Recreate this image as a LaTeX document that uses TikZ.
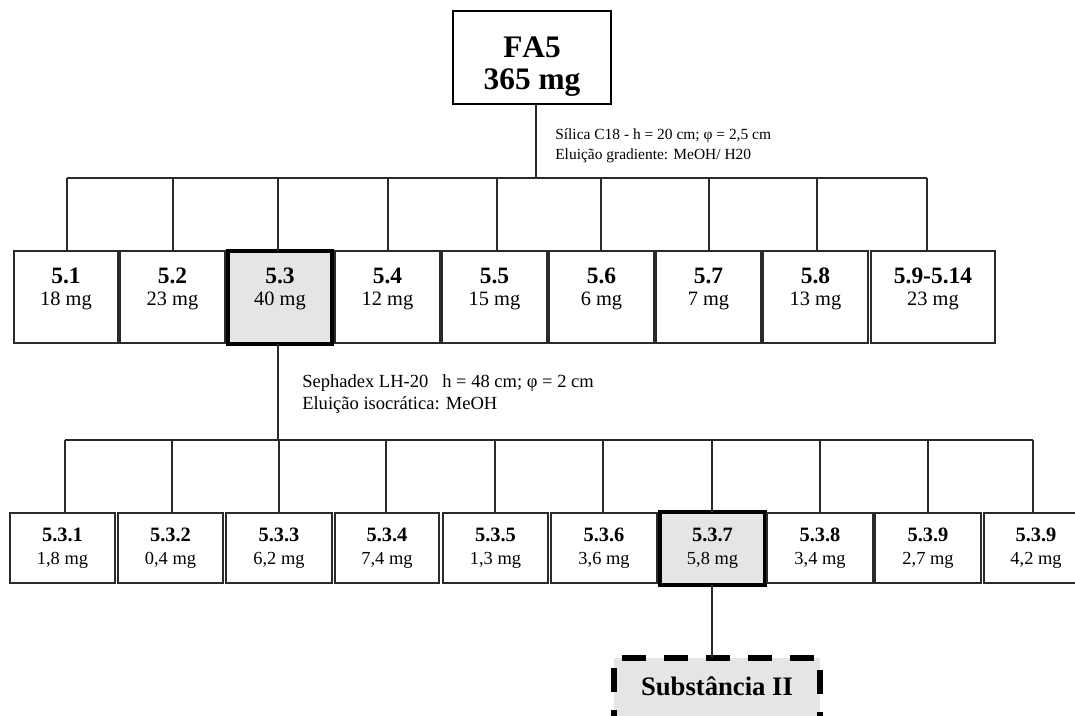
\documentclass[tikz,border=0pt]{standalone}
\usepackage{fontspec}
\setmainfont[Kerning=Off]{Liberation Serif}
\usetikzlibrary{fit}
\definecolor{fillg}{HTML}{E5E5E5}
\definecolor{ln}{HTML}{2A2A2A}
\begin{document}
\begin{tikzpicture}[x=0.75pt,y=-0.75pt,
  box/.style={draw=ln, line width=0.8pt, inner sep=0pt, outer sep=0pt},
  hibox/.style={draw=black, line width=3pt, fill=fillg, inner sep=0pt, outer sep=0pt},
  topbox/.style={draw=black, line width=1.5pt, inner sep=0pt, outer sep=0pt},
  dbox/.style={draw=black, line width=4.5pt, fill=fillg, inner sep=0pt, outer sep=0pt, dash pattern=on 18pt off 13.5pt},
  conn/.style={draw=ln, line width=0.8pt},
  lblA/.style={anchor=base, inner sep=0pt, font=\fontsize{17.6}{20}\selectfont\bfseries},
  mgA/.style={anchor=base, inner sep=0pt, font=\fontsize{15.3}{18}\selectfont},
  lblB/.style={anchor=base, inner sep=0pt, font=\fontsize{15.3}{18}\selectfont\bfseries},
  mgB/.style={anchor=base, inner sep=0pt, font=\fontsize{13.8}{16}\selectfont},
  note/.style={anchor=base west, inner sep=0pt, align=left},
  bigtxt/.style={anchor=base, inner sep=0pt, font=\fontsize{23.5}{26}\selectfont\bfseries}
]
\useasboundingbox (0,0) rectangle (1075,715);
\clip (0,0) rectangle (1075,715);

% top node
\node[topbox, fit={(453,11) (611,104)}] (fa5) {};
\node[bigtxt] (fa5a) at (532,57) {FA5};
\node[bigtxt] (fa5b) at (532,89) {365 mg};

\node[note, font=\fontsize{11.6}{14.5}\selectfont] (sil) at (555,159) {Sílica C18 - h = 20 cm; φ = 2,5 cm\\Eluição gradiente: MeOH/ H20};

% row 1 boxes
\node[box, fit={(14,251) (118,343)}] (n1) {};
\node[box, fit={(120,251) (225,343)}] (n2) {};
\node[hibox, fit={(228,251) (332,344)}] (n3) {};
\node[box, fit={(335,251) (440,343)}] (n4) {};
\node[box, fit={(442,251) (547,343)}] (n5) {};
\node[box, fit={(549,251) (654,343)}] (n6) {};
\node[box, fit={(656,251) (761,343)}] (n7) {};
\node[box, fit={(763,251) (868,343)}] (n8) {};
\node[box, fit={(871,251) (995,343)}] (n9) {};

\foreach \n/\x/\a/\b in {1/66/5.1/18 mg, 2/172.5/5.2/23 mg, 3/280/5.3/40 mg, 4/387.5/5.4/12 mg, 5/494.5/5.5/15 mg, 6/601.5/5.6/6 mg, 7/708.5/5.7/7 mg, 8/815.5/5.8/13 mg, 9/933/5.9-5.14/23 mg}{
  \node[lblA] (l\n) at (\x,283) {\a};
  \node[mgA] (m\n) at (\x,305) {\b};
}

% connectors row 1
\coordinate (t1) at (536,178);
\draw[conn] (fa5.south -| t1) -- (t1);
\coordinate (b1L) at (67,178);
\coordinate (b1R) at (927,178);
\draw[conn] (b1L) -- (b1R);
\foreach \n/\x in {1/67, 2/173, 3/278, 4/388, 5/497, 6/601, 7/709, 8/817, 9/927}{
  \coordinate (d\n) at (\x,178);
  \draw[conn] (d\n) -- (d\n |- n\n.north);
}

% second column text
\node[note, font=\fontsize{13.9}{16.5}\selectfont] (seph) at (302,409) {Sephadex LH-20\ \ \ h = 48 cm; φ = 2 cm\\Eluição isocrática: MeOH};

% row 2 boxes
\node[box, fit={(10,513) (115,583)}] (s1) {};
\node[box, fit={(118,513) (223,583)}] (s2) {};
\node[box, fit={(226,513) (332,583)}] (s3) {};
\node[box, fit={(335,513) (439,583)}] (s4) {};
\node[box, fit={(443,513) (548,583)}] (s5) {};
\node[box, fit={(551,513) (657,583)}] (s6) {};
\node[hibox, fit={(660,512) (765,585)}] (s7) {};
\node[box, fit={(767,513) (873,583)}] (s8) {};
\node[box, fit={(875,513) (981,583)}] (s9) {};
\node[box, fit={(984,513) (1090,583)}] (s10) {};

\foreach \n/\x/\a/\b in {1/62.5/5.3.1/{1,8 mg}, 2/170.5/5.3.2/{0,4 mg}, 3/279/5.3.3/{6,2 mg}, 4/387/5.3.4/{7,4 mg}, 5/495.5/5.3.5/{1,3 mg}, 6/604/5.3.6/{3,6 mg}, 7/712.5/5.3.7/{5,8 mg}, 8/820/5.3.8/{3,4 mg}, 9/928/5.3.9/{2,7 mg}, 10/1036/5.3.9/{4,2 mg}}{
  \node[lblB] (sl\n) at (\x,541) {\a};
  \node[mgB] (sm\n) at (\x,564) {\b};
}

% connectors row 2
\coordinate (t2) at (278,440);
\draw[conn] (n3.south -| t2) -- (t2);
\coordinate (b2L) at (65,440);
\coordinate (b2R) at (1033,440);
\draw[conn] (b2L) -- (b2R);
\foreach \n/\x in {1/65, 2/172, 3/279, 4/386, 5/495, 6/603, 7/712, 8/820, 9/928, 10/1033}{
  \coordinate (e\n) at (\x,440);
  \draw[conn] (e\n) -- (e\n |- s\n.north);
}

% final substance
\node[dbox, fit={(614,658) (820,740)}] (sub) {};
\node[anchor=base, inner sep=0pt, font=\fontsize{20}{24}\selectfont\bfseries] (subt) at (717,695) {Substância II};
\coordinate (t3) at (712,600);
\draw[conn] (s7.south -| t3) -- (sub.north -| t3);
\end{tikzpicture}
\end{document}
